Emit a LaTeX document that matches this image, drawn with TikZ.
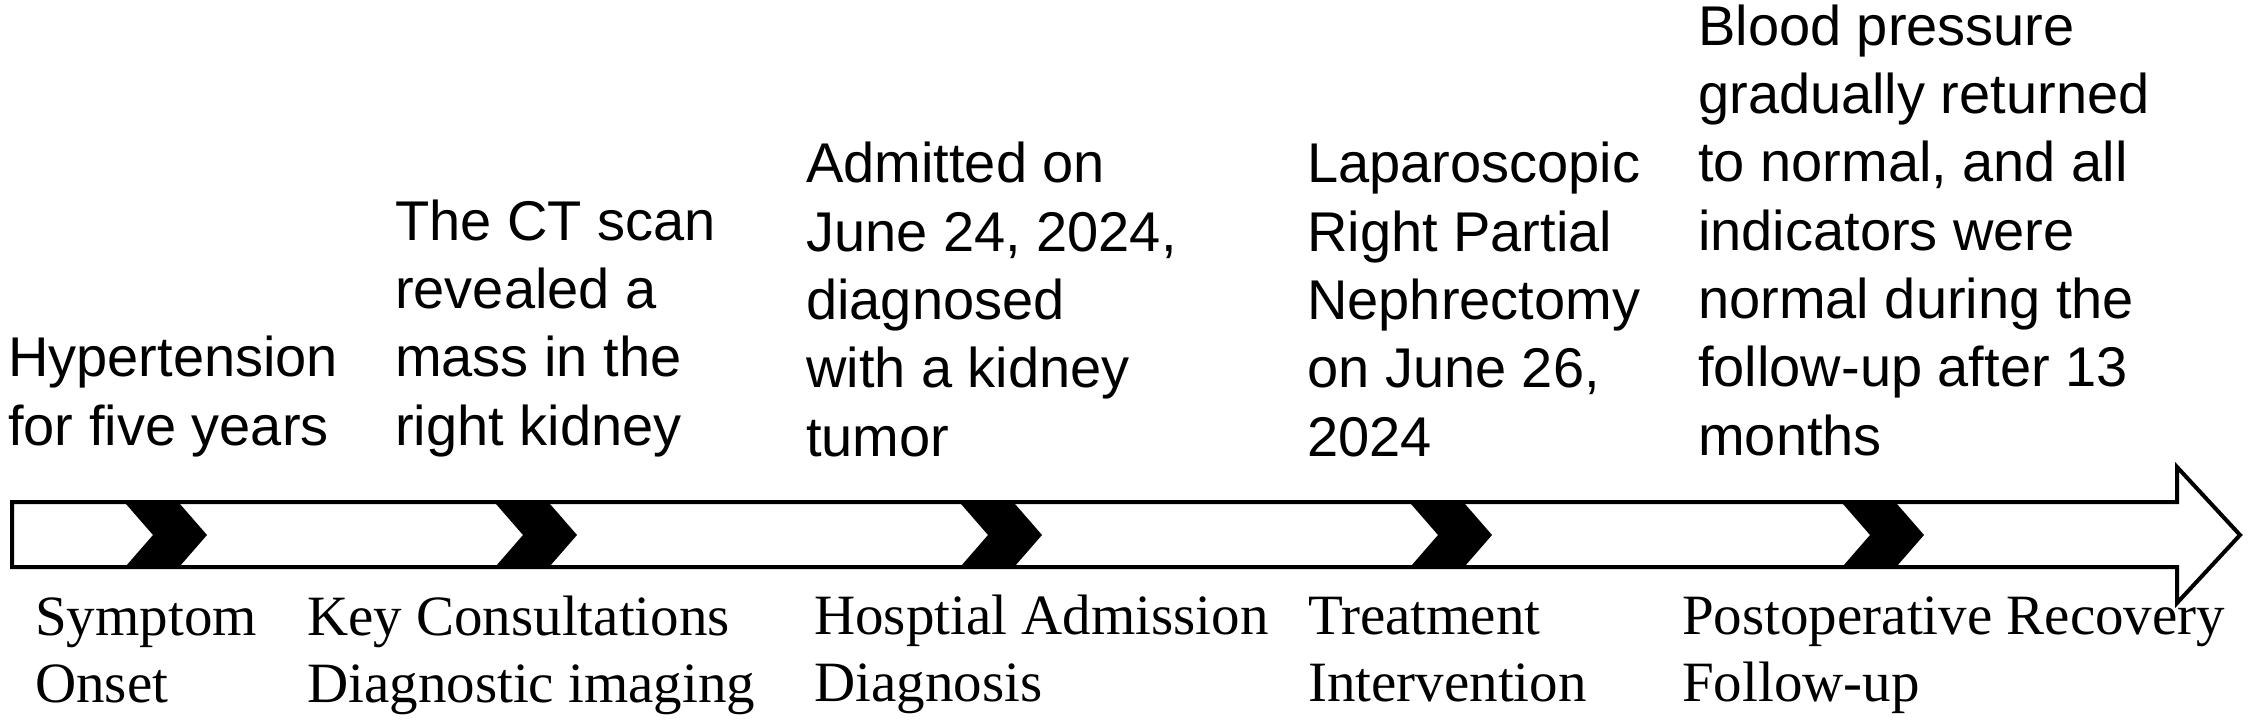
\documentclass[tikz,border=0pt]{standalone}
\usepackage{fontspec}
\setmainfont{Liberation Serif}
\newfontfamily\arialf{Liberation Sans}
\begin{document}
\begin{tikzpicture}[x=1pt,y=-1pt,
  evt/.style={font=\arialf\fontsize{56}{68.3}\selectfont, align=left, anchor=base west, inner sep=0pt},
  phase/.style={font=\fontsize{57}{67}\selectfont, align=left, anchor=base west, inner sep=0pt},
  chev/.style={fill=black},
  bar/.style={draw=black, line width=4pt, fill=white, line join=miter}]
\useasboundingbox (0,0) rectangle (2250,722);
% timeline arrow
\draw[bar] (12,502) -- (2177,502) -- (2177,467) -- (2240,535) -- (2177,603) -- (2177,567) -- (12,567) -- cycle;
% chevrons
\foreach \x in {126,496,961,1411,1843}{
  \fill[chev] (\x,504) -- (\x+27,535) -- (\x,566) -- (\x+54,566) -- (\x+81,535) -- (\x+54,504) -- cycle;
}
% events above (anchor = baseline of last line)
\node[evt] (e1) at (8,445) {Hypertension\\for five years};
\node[evt] (e2) at (395,445) {The CT scan\\revealed a\\mass in the\\right kidney};
\node[evt] (e3) at (806,456) {Admitted on\\June 24, 2024,\\diagnosed\\with a kidney\\tumor};
\node[evt] (e4) at (1307,456) {Laparoscopic\\Right Partial\\Nephrectomy\\on June 26,\\2024};
\node[evt] (e5) at (1698,455) {Blood pressure\\gradually returned\\to normal, and all\\indicators were\\normal during the\\follow-up after 13\\months};
% phases below
\node[phase] (p1) at (35,702) {Symptom\\Onset};
\node[phase] (p2) at (307,702) {Key Consultations\\Diagnostic imaging};
\node[phase] (p3) at (814,701) {Hosptial Admission\\Diagnosis};
\node[phase] (p4) at (1308,701) {Treatment\\Intervention};
\node[phase] (p5) at (1682,701) {Postoperative Recovery\\Follow-up};
\end{tikzpicture}
\end{document}
